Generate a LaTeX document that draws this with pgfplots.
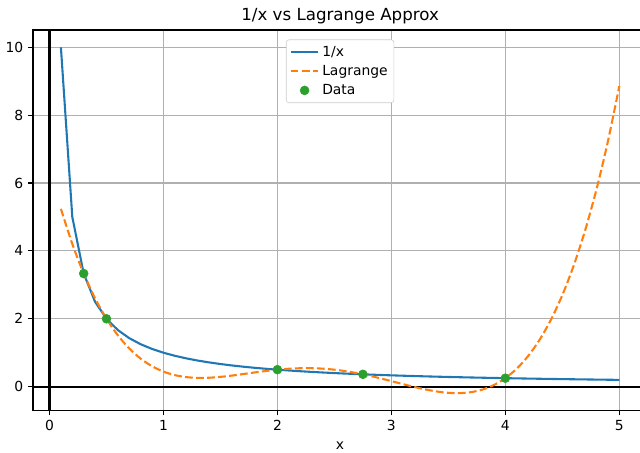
\documentclass[border=0pt]{standalone}
\usepackage{fontspec}
\setmainfont{DejaVu Sans}
\usepackage{pgfplots}
\pgfplotsset{compat=1.18}

\definecolor{mblue}{HTML}{1F77B4}
\definecolor{morange}{HTML}{FF7F0E}
\definecolor{mgreen}{HTML}{2CA02C}
\definecolor{mgrid}{HTML}{B0B0B0}

\begin{document}
\begin{tikzpicture}
\begin{axis}[
    name=ax,
    scale only axis,
    width=442.4pt, height=274pt,
    xmin=-0.145, xmax=5.245,
    ymin=-0.70, ymax=10.51,
    xtick={0,1,2,3,4,5},
    ytick={0,2,4,6,8,10},
    xtick pos=bottom, ytick pos=left,
    tick align=outside,
    major tick length=3.5pt,
    every tick/.style={black, line width=0.8pt},
    axis line style={line width=0.8pt},
    grid=major,
    grid style={mgrid, line width=0.8pt},
    /pgf/number format/assume math mode=true,
    tick label style={font=\fontsize{10}{12}\selectfont},
    xlabel={x},
    xlabel style={font=\fontsize{10}{12}\selectfont, yshift=-1pt},
    title={1/x vs Lagrange Approx},
    title style={font=\fontsize{12}{14}\selectfont, yshift=-5pt},
    legend cell align=left,
    legend style={at={(0.5,0.975)}, anchor=north, draw=black!20, rounded corners=2pt,
        fill=white, font=\fontsize{10}{12}\selectfont, row sep=1pt, inner sep=2.5pt},
    legend image code/.code={\draw[mark repeat=2,mark phase=2,#1] plot coordinates {(0cm,0cm) (0.35cm,0cm) (0.7cm,0cm)};},
]
\addplot[black, line width=1.5pt, forget plot] coordinates {(-0.145,0) (5.245,0)};
\addplot[black, line width=1.5pt, forget plot] coordinates {(0,-0.70) (0,10.51)};

\addplot[mblue, line width=1.5pt] coordinates {
(0.1,10) (0.2,5) (0.3,3.3333) (0.4,2.5) (0.5,2) (0.6,1.6667) (0.7,1.4286) (0.8,1.25) (0.9,1.1111) (1.0,1)
(1.1,0.9091) (1.2,0.8333) (1.3,0.7692) (1.4,0.7143) (1.5,0.6667) (1.6,0.625) (1.7,0.5882) (1.8,0.5556) (1.9,0.5263) (2.0,0.5)
(2.1,0.4762) (2.2,0.4545) (2.3,0.4348) (2.4,0.4167) (2.5,0.4) (2.6,0.3846) (2.7,0.3704) (2.8,0.3571) (2.9,0.3448) (3.0,0.3333)
(3.1,0.3226) (3.2,0.3125) (3.3,0.3030) (3.4,0.2941) (3.5,0.2857) (3.6,0.2778) (3.7,0.2703) (3.8,0.2632) (3.9,0.2564) (4.0,0.25)
(4.1,0.2439) (4.2,0.2381) (4.3,0.2326) (4.4,0.2273) (4.5,0.2222) (4.6,0.2174) (4.7,0.2128) (4.8,0.2083) (4.9,0.2041) (5.0,0.2)
};
\addlegendentry{1/x}

\addplot[morange, line width=1.5pt, dash pattern=on 5.55pt off 2.4pt, smooth] coordinates {
(0.1,5.2396) (0.2,4.2072) (0.3,3.3333) (0.4,2.6025) (0.5,2.0) (0.6,1.5116) (0.7,1.1240) (0.8,0.8245) (0.9,0.6013) (1.0,0.4432)
(1.1,0.3396) (1.2,0.2810) (1.3,0.2582) (1.4,0.2630) (1.5,0.2879) (1.6,0.3260) (1.7,0.3713) (1.8,0.4183) (1.9,0.4625) (2.0,0.5)
(2.1,0.5275) (2.2,0.5426) (2.3,0.5436) (2.4,0.5295) (2.5,0.5) (2.6,0.4555) (2.7,0.3973) (2.8,0.3273) (2.9,0.2480) (3.0,0.1629)
(3.1,0.0760) (3.2,-0.0078) (3.3,-0.0830) (3.4,-0.1434) (3.5,-0.1818) (3.6,-0.1907) (3.7,-0.1615) (3.8,-0.0850) (3.9,0.0486) (4.0,0.25)
(4.1,0.5305) (4.2,0.9023) (4.3,1.3782) (4.4,1.9716) (4.5,2.6970) (4.6,3.5692) (4.7,4.6040) (4.8,5.8179) (4.9,7.2280) (5.0,8.8523)
};
\addlegendentry{Lagrange}

\addplot[only marks, mark=*, mark size=3.2pt, mgreen, mark options={draw=mgreen, fill=mgreen}] coordinates {
(0.3,3.3333) (0.5,2) (2,0.5) (2.75,0.3636) (4,0.25)
};
\addlegendentry{Data}
\end{axis}
\pgfresetboundingbox
\path[use as bounding box] ([shift={(-23.76pt,-30.24pt)}]ax.south west) rectangle ([shift={(-5.2pt,21.6pt)}]ax.north east);
\end{tikzpicture}
\end{document}
